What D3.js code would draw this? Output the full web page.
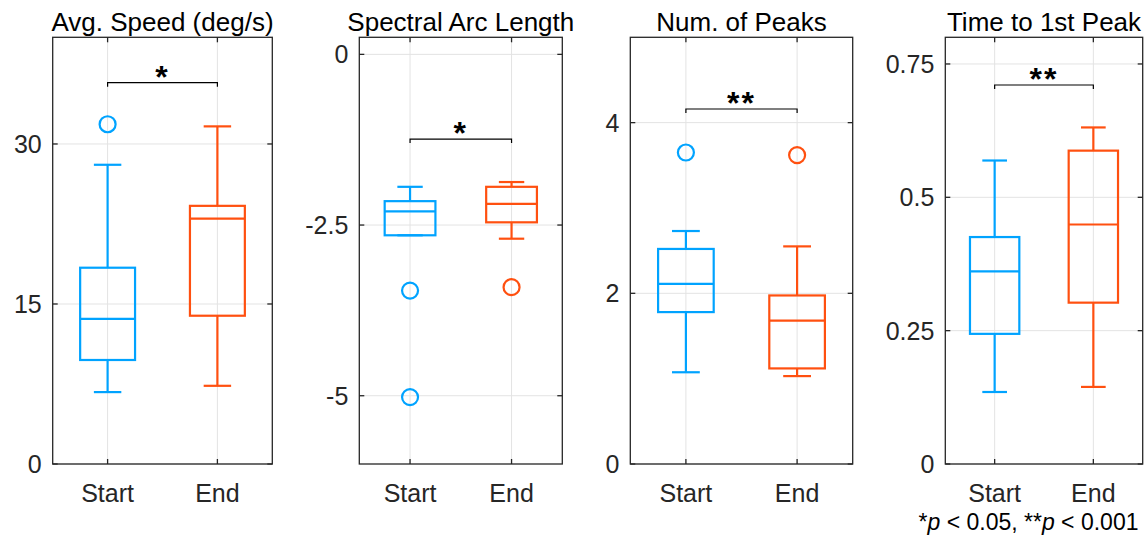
<!DOCTYPE html>
<html>
<head>
<meta charset="utf-8">
<script src="https://cdn.jsdelivr.net/npm/d3@7"></script>
<style>
  html, body { margin: 0; padding: 0; background: #fff; }
  svg { display: block; font-family: "Liberation Sans", Arial, Helvetica, sans-serif; }
</style>
</head>
<body>
<svg id="chart" width="1146" height="542"></svg>
<script>
// ---------- data ----------
const categories = ["Start", "End"];
const titles = ["Avg. Speed (deg/s)", "Spectral Arc Length", "Num. of Peaks", "Time to 1st Peak"];
const yDomains = [[0, 40], [-6, 0.25], [0, 5], [0, 0.8]];
const yTicks = [[0, 15, 30], [-5, -2.5, 0], [0, 2, 4], [0, 0.25, 0.5, 0.75]];
const yTickLabels = [["0", "15", "30"], ["-5", "-2.5", "0"], ["0", "2", "4"], ["0", "0.25", "0.5", "0.75"]];

// box stats per panel: [lower whisker, Q1, median, Q3, upper whisker]
const startStats = [
  [6.74, 9.75, 13.6, 18.4, 28.05],
  [-2.65, -2.65, -2.30, -2.15, -1.94],
  [1.075, 1.78, 2.11, 2.52, 2.73],
  [0.135, 0.244, 0.361, 0.4255, 0.569]
];
const endStats = [
  [7.33, 13.9, 23.0, 24.2, 31.65],
  [-2.70, -2.46, -2.19, -1.94, -1.87],
  [1.03, 1.12, 1.68, 1.975, 2.55],
  [0.1445, 0.3025, 0.449, 0.5875, 0.631]
];
const startOutliers = [[31.85], [-3.46, -5.02], [3.65], []];
const endOutliers = [[], [-3.41], [3.62], []];

const sigLevels = [35.75, -1.24, 4.16, 0.7106];
const sigLabels = ["*", "*", "**", "**"];
const footnote = [["*", false], ["p", true], [" < 0.05, **", false], ["p", true], [" < 0.001", false]];

// ---------- layout ----------
const panelX = [[52.7, 272.3], [359.3, 562.3], [630.3, 852.7], [945.3, 1142.7]];
const axTop = 37.3, axBottom = 464;
const colors = ["#00a3ff", "#ff5010"];
const axisColor = "#262626";
const gridColor = "#e3e3e3";

const svg = d3.select("#chart");

titles.forEach((title, i) => {
  const [x0, x1] = panelX[i];
  const x = d3.scaleLinear().domain([0.5, 2.5]).range([x0, x1]);
  const y = d3.scaleLinear().domain(yDomains[i]).range([axBottom, axTop]);
  const g = svg.append("g");

  // grid
  g.selectAll("line.gy").data(yTicks[i]).join("line")
    .attr("x1", x0).attr("x2", x1)
    .attr("y1", d => y(d)).attr("y2", d => y(d))
    .attr("stroke", gridColor).attr("stroke-width", 1);
  g.selectAll("line.gx").data([1, 2]).join("line")
    .attr("x1", d => x(d)).attr("x2", d => x(d))
    .attr("y1", axTop).attr("y2", axBottom)
    .attr("stroke", gridColor).attr("stroke-width", 1);

  // boxes
  const series = [
    { pos: 1, s: startStats[i], out: startOutliers[i], c: colors[0] },
    { pos: 2, s: endStats[i], out: endOutliers[i], c: colors[1] }
  ];
  series.forEach(d => {
    const [lw, q1, med, q3, uw] = d.s;
    const bg = g.append("g").attr("stroke", d.c).attr("stroke-width", 2.2).attr("fill", "none");
    bg.append("line").attr("x1", x(d.pos)).attr("x2", x(d.pos)).attr("y1", y(q3)).attr("y2", y(uw));
    bg.append("line").attr("x1", x(d.pos)).attr("x2", x(d.pos)).attr("y1", y(q1)).attr("y2", y(lw));
    bg.append("line").attr("x1", x(d.pos - 0.125)).attr("x2", x(d.pos + 0.125)).attr("y1", y(uw)).attr("y2", y(uw));
    bg.append("line").attr("x1", x(d.pos - 0.125)).attr("x2", x(d.pos + 0.125)).attr("y1", y(lw)).attr("y2", y(lw));
    bg.append("rect")
      .attr("x", x(d.pos - 0.25)).attr("width", x(d.pos + 0.25) - x(d.pos - 0.25))
      .attr("y", y(q3)).attr("height", y(q1) - y(q3));
    bg.append("line").attr("x1", x(d.pos - 0.25)).attr("x2", x(d.pos + 0.25)).attr("y1", y(med)).attr("y2", y(med));
    bg.selectAll("circle").data(d.out).join("circle")
      .attr("cx", x(d.pos)).attr("cy", v => y(v)).attr("r", 8);
  });

  // axes box
  g.append("rect").attr("x", x0).attr("y", axTop).attr("width", x1 - x0).attr("height", axBottom - axTop)
    .attr("fill", "none").attr("stroke", axisColor).attr("stroke-width", 1.3);

  // inward ticks
  const tl = 5;
  yTicks[i].forEach(t => {
    g.append("line").attr("x1", x0).attr("x2", x0 + tl).attr("y1", y(t)).attr("y2", y(t)).attr("stroke", axisColor).attr("stroke-width", 1.3);
    g.append("line").attr("x1", x1).attr("x2", x1 - tl).attr("y1", y(t)).attr("y2", y(t)).attr("stroke", axisColor).attr("stroke-width", 1.3);
  });
  [1, 2].forEach(t => {
    g.append("line").attr("x1", x(t)).attr("x2", x(t)).attr("y1", axBottom).attr("y2", axBottom - tl).attr("stroke", axisColor).attr("stroke-width", 1.3);
    g.append("line").attr("x1", x(t)).attr("x2", x(t)).attr("y1", axTop).attr("y2", axTop + tl).attr("stroke", axisColor).attr("stroke-width", 1.3);
  });

  // y tick labels
  g.selectAll("text.yt").data(yTicks[i]).join("text")
    .attr("x", x0 - 11).attr("y", d => y(d)).attr("dy", "0.36em")
    .attr("text-anchor", "end").attr("font-size", 25).attr("fill", axisColor)
    .text((d, k) => yTickLabels[i][k]);

  // x tick labels
  g.selectAll("text.xt").data(categories).join("text")
    .attr("x", (d, k) => x(k + 1)).attr("y", 502)
    .attr("text-anchor", "middle").attr("font-size", 25).attr("fill", axisColor)
    .text(d => d);

  // title
  g.append("text").attr("x", (x0 + x1) / 2).attr("y", 31)
    .attr("text-anchor", "middle").attr("font-size", 26).attr("fill", "#000")
    .text(title);

  // significance bracket
  const sy = y(sigLevels[i]);
  g.append("path")
    .attr("d", `M${x(1)},${sy + 4}V${sy}H${x(2)}V${sy + 4}`)
    .attr("fill", "none").attr("stroke", "#000").attr("stroke-width", 1.2);
  g.append("text").attr("x", (x(1) + x(2)) / 2).attr("y", sy + 5)
    .attr("text-anchor", "middle").attr("font-size", 32).attr("font-weight", "bold")
    .attr("letter-spacing", 2).attr("fill", "#000")
    .text(sigLabels[i]);
});

// footnote
const fn = svg.append("text").attr("x", 1138.5).attr("y", 530)
  .attr("text-anchor", "end").attr("font-size", 23).attr("fill", "#000");
footnote.forEach(([t, it]) => {
  fn.append("tspan").attr("font-style", it ? "italic" : "normal").text(t);
});
</script>
</body>
</html>
